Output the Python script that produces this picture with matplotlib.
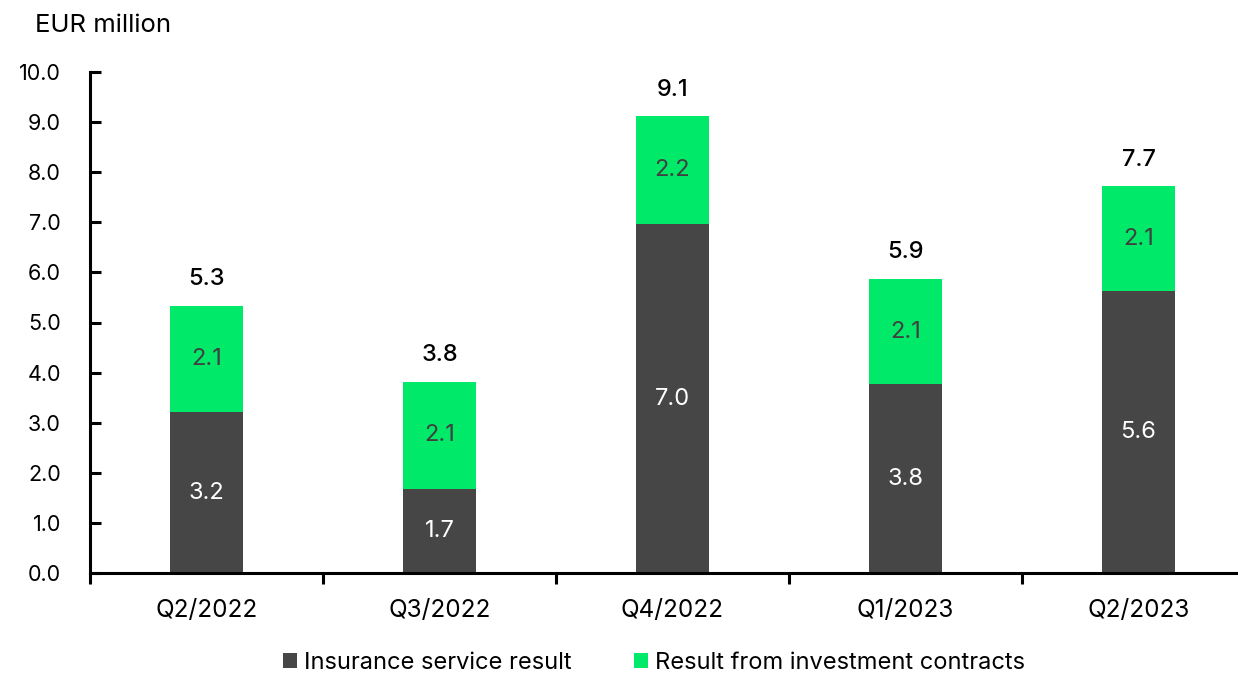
import matplotlib
matplotlib.use("Agg")
import matplotlib.pyplot as plt
from matplotlib.patches import Patch
import numpy as np

categories = ["Q2/2022", "Q3/2022", "Q4/2022", "Q1/2023", "Q2/2023"]
insurance = [3.21, 1.68, 6.96, 3.77, 5.62]
investment = [2.12, 2.14, 2.16, 2.10, 2.10]
yticks = [0.0, 1.0, 2.0, 3.0, 4.0, 5.0, 6.0, 7.0, 8.0, 9.0, 10.0]

DARK = "#464646"
GREEN = "#00E968"

plt.rcParams['font.family'] = ['Inter', 'DejaVu Sans']

W, H = 1238, 674
fig = plt.figure(figsize=(W / 100, H / 100), dpi=100)
ax_left, ax_right = 90, 1238
ax_top, ax_bot = 72, 573
ax = fig.add_axes([ax_left / W, 1 - ax_bot / H, (ax_right - ax_left) / W, (ax_bot - ax_top) / H])

x = np.arange(len(categories))
bw = 0.315
ins = np.array(insurance)
inv = np.array(investment)
tot = ins + inv

ax.bar(x, ins, bw, color=DARK, zorder=2)
ax.bar(x, inv, bw, bottom=ins, color=GREEN, zorder=2)

for xi, a, b, t in zip(x, ins, inv, tot):
    ax.text(xi, a / 2, f"{a:.1f}", ha="center", va="center", color="white", fontsize=17)
    ax.text(xi, a + b / 2, f"{b:.1f}", ha="center", va="center", color="#404040", fontsize=17)
    ax.text(xi, t + 0.53, f"{t:.1f}", ha="center", va="center", color="black", fontsize=17, fontweight="medium")

ax.set_ylim(0, 10)
ax.set_xlim(-0.5, -0.5 + (ax_right - ax_left) / 233.0)
ax.set_yticks(yticks)
ax.set_yticklabels([f"{v:.1f}" for v in yticks], fontsize=15.5)
ax.set_xticks(x)
ax.set_xticklabels(categories, fontsize=17.5)
ax.tick_params(axis="x", length=0, pad=19)
ax.set_xticks(np.arange(len(categories)) - 0.5, minor=True)
ax.tick_params(axis="x", which="minor", length=8, width=2.2, direction="out", color="black")
ax.tick_params(axis="y", length=8, width=2.2, direction="in", pad=21, color="black")

for s in ["top", "right"]:
    ax.spines[s].set_visible(False)
for s in ["left", "bottom"]:
    ax.spines[s].set_linewidth(2.2)
    ax.spines[s].set_color("black")

fig.text(35 / W, 1 - 25 / H, "EUR million", fontsize=18.5, ha="left", va="center")

handles = [Patch(facecolor=DARK, label="Insurance service result"),
           Patch(facecolor=GREEN, label="Result from investment contracts")]
fig.legend(handles=handles, loc="center", bbox_to_anchor=(654 / W, 1 - 663 / H), ncol=2,
           frameon=False, fontsize=17, handlelength=0.62, handleheight=0.62,
           handletextpad=0.3, columnspacing=2.6)

fig.savefig("out.png", dpi=100)
